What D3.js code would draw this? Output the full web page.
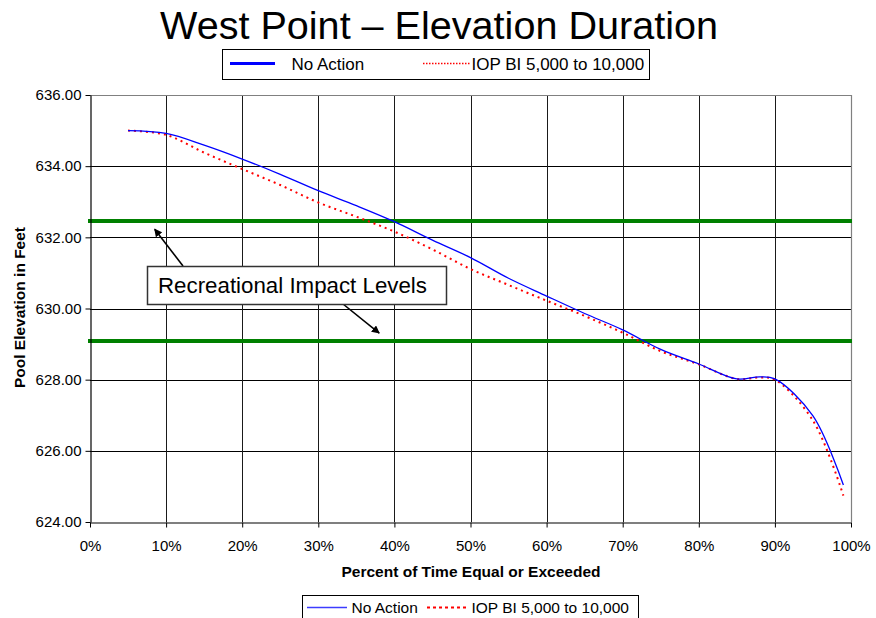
<!DOCTYPE html>
<html>
<head>
<meta charset="utf-8">
<script src="https://cdn.jsdelivr.net/npm/d3@7"></script>
<style>
  html, body { margin: 0; padding: 0; background: #fff; }
  svg { display: block; font-family: "Liberation Sans", Arial, sans-serif; }
</style>
</head>
<body>
<svg id="chart" width="876" height="618"></svg>
<script>
// Percent of time a pool elevation is equaled or exceeded
const percentTime = [5, 10, 15, 20, 25, 30, 35, 40, 45, 50, 55, 60, 65, 70, 75, 80, 85, 88, 90, 95, 99];
// Pool elevation (ft) for each alternative
const noAction = [635.00, 634.92, 634.59, 634.20, 633.77, 633.31, 632.89, 632.44, 631.92, 631.43, 630.85, 630.35, 629.86, 629.40, 628.85, 628.44, 628.02, 628.08, 628.02, 626.98, 625.04];
const iopBI = [635.00, 634.88, 634.38, 633.92, 633.47, 632.98, 632.58, 632.16, 631.66, 631.11, 630.66, 630.22, 629.79, 629.32, 628.80, 628.43, 628.02, 628.06, 628.00, 626.85, 624.74];
// Recreational impact elevations (ft)
const impactLevels = [632.46, 629.09];
// Axis ticks
const yTicks = [624, 626, 628, 630, 632, 634, 636];
const xTicks = [0, 10, 20, 30, 40, 50, 60, 70, 80, 90, 100];
const seriesNames = ["No Action", "IOP BI 5,000 to 10,000"];
const titleText = "West Point \u2013 Elevation Duration";
const yTitle = "Pool Elevation in Feet";
const xTitle = "Percent of Time Equal or Exceeded";
const calloutText = "Recreational Impact Levels";
// Callout arrow tips, in data units (percent, feet)
const arrowTips = [[8.5, 632.23], [38.0, 629.31]];

const svg = d3.select("#chart");
const plot = { left: 90, right: 851, top: 95, bottom: 522 };

const x = d3.scaleLinear().domain([0, 100]).range([plot.left, plot.right]);
const y = d3.scaleLinear().domain([624, 636]).range([plot.bottom, plot.top]);

// Title
svg.append("text")
  .attr("x", 439).attr("y", 39)
  .attr("text-anchor", "middle")
  .attr("font-size", 38)
  .attr("textLength", 558).attr("lengthAdjust", "spacingAndGlyphs")
  .text(titleText);

// Top legend
const lg = svg.append("g");
lg.append("rect").attr("x", 222.5).attr("y", 49.5).attr("width", 427).attr("height", 30)
  .attr("fill", "#fff").attr("stroke", "#000").attr("stroke-width", 1);
lg.append("line").attr("x1", 230).attr("x2", 275).attr("y1", 63.5).attr("y2", 63.5)
  .attr("stroke", "#0000ff").attr("stroke-width", 3);
lg.append("text").attr("x", 291.5).attr("y", 70).attr("font-size", 17).text(seriesNames[0]);
lg.append("line").attr("x1", 423).attr("x2", 471).attr("y1", 63.5).attr("y2", 63.5)
  .attr("stroke", "#ff0000").attr("stroke-width", 1.3).attr("stroke-dasharray", "1.5,1.5");
lg.append("text").attr("x", 471.5).attr("y", 70).attr("font-size", 17).text(seriesNames[1]);

// Plot area
svg.append("rect").attr("x", plot.left).attr("y", plot.top)
  .attr("width", plot.right - plot.left).attr("height", plot.bottom - plot.top)
  .attr("fill", "#fff");

// Grid
const grid = svg.append("g");
grid.selectAll("line.h").data(yTicks.slice(1, -1)).join("line")
  .attr("x1", plot.left).attr("x2", plot.right)
  .attr("y1", d => Math.round(y(d)) + 0.5).attr("y2", d => Math.round(y(d)) + 0.5)
  .attr("stroke", "#000").attr("stroke-width", 1);
grid.selectAll("line.v").data(xTicks.slice(1, -1)).join("line")
  .attr("y1", plot.top).attr("y2", plot.bottom)
  .attr("x1", d => Math.round(x(d)) + 0.5).attr("x2", d => Math.round(x(d)) + 0.5)
  .attr("stroke", "#1a1a1a").attr("stroke-width", 1);

// Plot border (top and right)
svg.append("path")
  .attr("d", `M${plot.left},${plot.top + 0.5}H${plot.right + 0.5}V${plot.bottom}`)
  .attr("fill", "none").attr("stroke", "#808080").attr("stroke-width", 1.2);

// Impact level lines
svg.selectAll("line.impact").data(impactLevels).join("line")
  .attr("x1", plot.left - 2).attr("x2", plot.right + 1)
  .attr("y1", d => y(d)).attr("y2", d => y(d))
  .attr("stroke", "#008000").attr("stroke-width", 4);

// Series
const line = d3.line().curve(d3.curveCatmullRom.alpha(0.5))
  .x(d => x(d[0])).y(d => y(d[1]));
svg.append("path").datum(d3.zip(percentTime, iopBI))
  .attr("d", line).attr("fill", "none")
  .attr("stroke", "#ff0000").attr("stroke-width", 2).attr("stroke-dasharray", "2,4");
svg.append("path").datum(d3.zip(percentTime, noAction))
  .attr("d", line).attr("fill", "none")
  .attr("stroke", "#0000ff").attr("stroke-width", 1.3);

// Axes
const yAxis = svg.append("g").attr("transform", `translate(${plot.left + 0.5},0)`)
  .call(d3.axisLeft(y).tickValues(yTicks).tickSize(5).tickSizeOuter(0).tickPadding(4)
    .tickFormat(d => d.toFixed(2)));
const xAxis = svg.append("g").attr("transform", `translate(0,${plot.bottom + 0.5})`)
  .call(d3.axisBottom(x).tickValues(xTicks).tickSize(5).tickSizeOuter(0).tickPadding(13)
    .tickFormat(d => d + "%"));
[yAxis, xAxis].forEach(g => {
  g.select(".domain").attr("stroke", "#000").attr("stroke-width", 1.2);
  g.selectAll(".tick line").attr("stroke", "#000");
  g.selectAll(".tick text").attr("font-size", 15).attr("fill", "#000")
    .attr("font-family", "Liberation Sans, Arial, sans-serif");
});

// Axis titles
svg.append("text")
  .attr("transform", "translate(24.5,307.5) rotate(-90)")
  .attr("text-anchor", "middle").attr("font-size", 15.5).attr("font-weight", "bold")
  .text(yTitle);
svg.append("text")
  .attr("x", 471).attr("y", 577)
  .attr("text-anchor", "middle").attr("font-size", 15.5).attr("font-weight", "bold")
  .text(xTitle);

// Callout with arrows
const defs = svg.append("defs");
defs.append("marker").attr("id", "arrowhead")
  .attr("viewBox", "0 0 10 10").attr("refX", 9).attr("refY", 5)
  .attr("markerWidth", 8).attr("markerHeight", 8).attr("orient", "auto")
  .attr("markerUnits", "userSpaceOnUse")
  .append("path").attr("d", "M0,0L10,5L0,10z").attr("fill", "#000");
const arrowStarts = [[183, 266], [343, 304]];
svg.selectAll("line.arrow").data(arrowTips).join("line")
  .attr("x1", (d, i) => arrowStarts[i][0]).attr("y1", (d, i) => arrowStarts[i][1])
  .attr("x2", d => x(d[0])).attr("y2", d => y(d[1]))
  .attr("stroke", "#000").attr("stroke-width", 1.6)
  .attr("marker-end", "url(#arrowhead)");
svg.append("rect").attr("x", 147.5).attr("y", 266.5).attr("width", 299).attr("height", 38)
  .attr("fill", "#fff").attr("stroke", "#333").attr("stroke-width", 1.5);
svg.append("text").attr("x", 158).attr("y", 293).attr("font-size", 22.3).text(calloutText);

// Bottom legend
const lb = svg.append("g");
lb.append("rect").attr("x", 302.5).attr("y", 595.5).attr("width", 336).attr("height", 30)
  .attr("fill", "#fff").attr("stroke", "#000").attr("stroke-width", 1);
lb.append("line").attr("x1", 307).attr("x2", 347).attr("y1", 607.5).attr("y2", 607.5)
  .attr("stroke", "#3c3cff").attr("stroke-width", 1.3);
lb.append("text").attr("x", 351.5).attr("y", 612.5).attr("font-size", 15.5).text(seriesNames[0]);
lb.append("line").attr("x1", 427).attr("x2", 466).attr("y1", 607.5).attr("y2", 607.5)
  .attr("stroke", "#ff0000").attr("stroke-width", 2).attr("stroke-dasharray", "3,3");
lb.append("text").attr("x", 471.5).attr("y", 612.5).attr("font-size", 15.5).text(seriesNames[1]);
</script>
</body>
</html>
